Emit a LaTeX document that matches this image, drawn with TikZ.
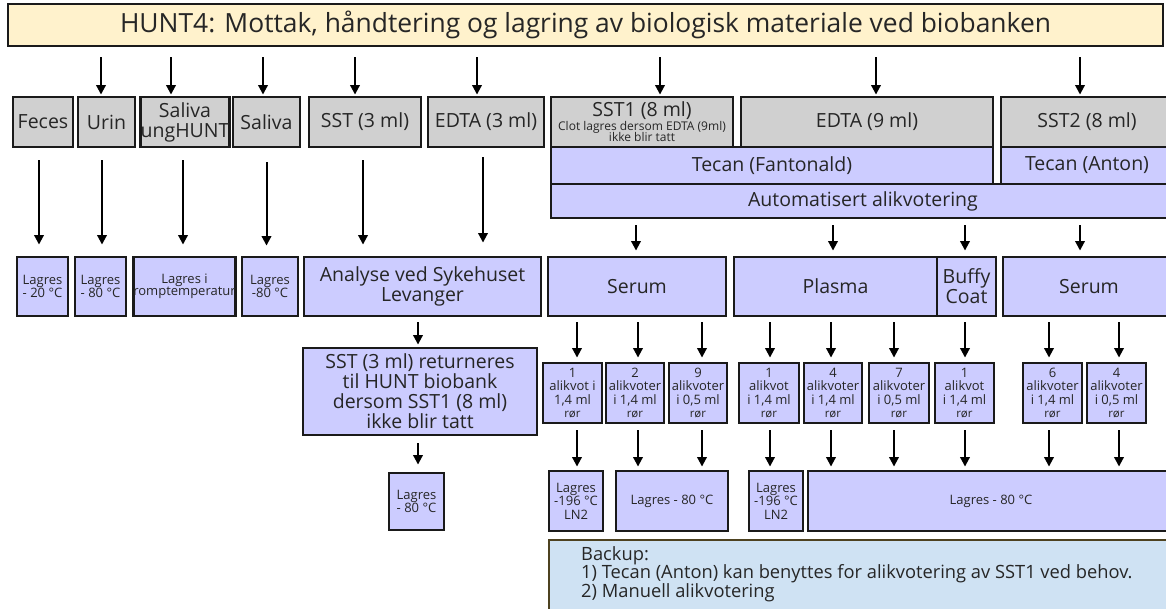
\documentclass[tikz,border=0pt]{standalone}
\usepackage{fontspec}
\setmainfont{Open Sans}
\usetikzlibrary{arrows.meta,calc}
\definecolor{gfill}{HTML}{D0D0D0}
\definecolor{pfill}{HTML}{CCCCFF}
\definecolor{tfill}{HTML}{FFF2CC}
\definecolor{bfill}{HTML}{CFE2F3}
\definecolor{bord}{HTML}{1A1A1A}
\definecolor{txt}{HTML}{262626}
\definecolor{bkb}{HTML}{4D4220}
\begin{document}
\begin{tikzpicture}[x=1pt,y=-1pt,
 base/.style={draw=bord,line width=2.9pt,inner sep=0pt,align=center,text=txt},
 gbox/.style={base,fill=gfill,font=\fontsize{19.5}{20}\selectfont},
 pbox/.style={base,fill=pfill,font=\fontsize{19.5}{20}\selectfont},
 sbox/.style={base,fill=pfill,font=\fontsize{13}{12.5}\selectfont},
 abox/.style={base,fill=pfill,font=\fontsize{13}{13.3}\selectfont,minimum height=60pt},
 arr/.style={draw=black,line width=2pt,-{Triangle[width=9.5pt,length=9.5pt]}},
]
\useasboundingbox (0,0) rectangle (1166,609);
\fill[white] (0,0) rectangle (1166,609);

% title
\node[base,fill=tfill,minimum width=1155pt,minimum height=42pt,font=\fontsize{26.4}{28}\selectfont] (title) at (585.5,25) {HUNT4: Mottak, håndtering og lagring av biologisk materiale ved biobanken};

% row 1
\node[gbox,minimum width=60pt,minimum height=50pt] (feces) at (43,122) {Feces};
\node[gbox,minimum width=57pt,minimum height=50pt] (urin) at (106.5,122) {Urin};
\node[gbox,minimum width=88pt,minimum height=50pt] (salung) at (185,122) {Saliva\\ungHUNT};
\node[gbox,minimum width=67pt,minimum height=50pt] (saliva) at (266.5,122) {Saliva};
\node[gbox,minimum width=112pt,minimum height=50pt] (sst3) at (365,122) {SST (3 ml)};
\node[gbox,minimum width=116pt,minimum height=50pt] (edta3) at (486,122) {EDTA (3 ml)};
\node[gbox,minimum width=182pt,minimum height=50pt] (sst1) at (642,122) {SST1 (8 ml)\\[-6pt]{\fontsize{12}{11.5}\selectfont Clot lagres dersom EDTA (9ml)}\\[-9pt]{\fontsize{12}{11.5}\selectfont ikke blir tatt}};
\node[gbox,minimum width=252pt,minimum height=50pt] (edta9) at (867,122) {EDTA (9 ml)};
\node[gbox,minimum width=172pt,minimum height=50pt] (sst2) at (1087,122) {SST2 (8 ml)};

% tecan rows
\node[pbox,minimum width=442pt,minimum height=37pt] (tecanf) at (772,165.5) {Tecan (Fantonald)};
\node[pbox,minimum width=172pt,minimum height=37pt] (tecana) at (1087,165.5) {Tecan (Anton)};
\node[pbox,minimum width=624pt,minimum height=34pt] (auto) at (863,201) {Automatisert alikvotering};

% storage row
\node[sbox,minimum width=51pt,minimum height=59pt] (lfeces) at (42.5,286.5) {Lagres\\- 20 °C};
\node[sbox,minimum width=51pt,minimum height=59pt] (lurin) at (100.5,286.5) {Lagres\\- 80 °C};
\node[sbox,minimum width=99pt,minimum height=59pt] (lsalung) at (184.5,286.5) {Lagres i\\romptemperatur};
\node[sbox,minimum width=56pt,minimum height=59pt] (lsaliva) at (270,286.5) {Lagres\\-80 °C};
\node[pbox,minimum width=237pt,minimum height=59pt] (analyse) at (422.5,286.5) {Analyse ved Sykehuset\\Levanger};
\node[pbox,minimum width=178pt,minimum height=59pt] (serum1) at (637,286.5) {Serum};
\node[pbox,minimum width=203pt,minimum height=59pt] (plasma) at (835.5,286.5) {Plasma};
\node[pbox,minimum width=59pt,minimum height=59pt] (buffy) at (966.5,286.5) {Buffy\\Coat};
\node[pbox,minimum width=172pt,minimum height=59pt] (serum2) at (1089,286.5) {Serum};

% SST return
\node[pbox,minimum width=234pt,minimum height=87pt] (ret) at (420,391.5) {SST (3 ml) returneres\\til HUNT biobank\\dersom SST1 (8 ml)\\ikke blir tatt};
\node[sbox,minimum width=55pt,minimum height=57pt] (l80) at (416.5,501.5) {Lagres\\- 80 °C};

% aliquots
\node[abox,minimum width=59pt] (a1) at (572.5,393) {1\\alikvot i\\1,4 ml\\{\fontsize{11.5}{12}\selectfont rør}};
\node[abox,minimum width=58pt] (a2) at (635,393) {2\\alikvoter\\i 1,4 ml\\{\fontsize{11.5}{12}\selectfont rør}};
\node[abox,minimum width=58pt] (a3) at (698,393) {9\\alikvoter\\i 0,5 ml\\{\fontsize{11.5}{12}\selectfont rør}};
\node[abox,minimum width=60pt] (a4) at (769,393) {1\\alikvot\\i 1,4 ml\\{\fontsize{11.5}{12}\selectfont rør}};
\node[abox,minimum width=58pt] (a5) at (833,393) {4\\alikvoter\\i 1,4 ml\\{\fontsize{11.5}{12}\selectfont rør}};
\node[abox,minimum width=60pt] (a6) at (899,393) {7\\alikvoter\\i 0,5 ml\\{\fontsize{11.5}{12}\selectfont rør}};
\node[abox,minimum width=59pt] (a7) at (964.5,393) {1\\alikvot\\i 1,4 ml\\{\fontsize{11.5}{12}\selectfont rør}};
\node[abox,minimum width=59pt] (a8) at (1052.5,393) {6\\alikvoter\\i 1,4 ml\\{\fontsize{11.5}{12}\selectfont rør}};
\node[abox,minimum width=59pt] (a9) at (1116.5,393) {4\\alikvoter\\i 0,5 ml\\{\fontsize{11.5}{12}\selectfont rør}};

% bottom storage
\node[sbox,font=\fontsize{13}{13.5}\selectfont,minimum width=54pt,minimum height=60pt] (b1) at (576,501) {Lagres\\-196 °C\\LN2};
\node[sbox,minimum width=112pt,minimum height=60pt] (b2) at (672,501) {Lagres - 80 °C};
\node[sbox,font=\fontsize{13}{13.5}\selectfont,minimum width=54pt,minimum height=60pt] (b3) at (776,501) {Lagres\\-196 °C\\LN2};
\node[sbox,minimum width=366pt,minimum height=60pt] (b4) at (991,501) {Lagres - 80 °C};

% backup
\node[draw=bkb,line width=2pt,fill=bfill,minimum width=626pt,minimum height=80pt,anchor=north west,inner sep=0pt] (backup) at (548,539) {};
\node[anchor=north west,align=left,inner sep=0pt,text=txt,font=\fontsize{18.3}{18.7}\selectfont] (backuptxt) at ($(backup.north west)+(33,7)$) {Backup:\\1) Tecan (Anton) kan benyttes for alikvotering av SST1 ved behov.\\2) Manuell alikvotering};

% arrows: title -> row 1
\draw[arr] ($(title.south -| urin.north)+(-5.5,10)$) -- ($(urin.north)+(-5.5,-1)$);
\draw[arr] ($(title.south -| salung.north)+(-14,10)$) -- ($(salung.north)+(-14,-1)$);
\draw[arr] ($(title.south -| saliva.north)+(-3.5,10)$) -- ($(saliva.north)+(-3.5,-1)$);
\draw[arr] ($(title.south -| sst3.north)+(-10,10)$) -- ($(sst3.north)+(-10,-1)$);
\draw[arr] ($(title.south -| edta3.north)+(-9,10)$) -- ($(edta3.north)+(-9,-1)$);
\draw[arr] ($(title.south -| sst1.north)+(18,10)$) -- ($(sst1.north)+(18,-1)$);
\draw[arr] ($(title.south -| edta9.north)+(9,10)$) -- ($(edta9.north)+(9,-1)$);
\draw[arr] ($(title.south -| sst2.north)+(-7,10)$) -- ($(sst2.north)+(-7,-1)$);

% row 1 -> storage
\draw[arr] ($(feces.south)+(-4,12)$) -- ($(feces.south |- lfeces.north)+(-4,-11)$);
\draw[arr] ($(urin.south)+(-4.5,12)$) -- ($(urin.south |- lurin.north)+(-4.5,-11)$);
\draw[arr] ($(salung.south)+(-2,12)$) -- ($(salung.south |- lsalung.north)+(-2,-11)$);
\draw[arr] ($(saliva.south)+(0,14)$) -- ($(saliva.south |- lsaliva.north)+(0,-10)$);
\draw[arr] ($(sst3.south)+(-2,12)$) -- ($(sst3.south |- analyse.north)+(-2,-11)$);
\draw[arr] ($(edta3.south)+(-3,9)$) -- ($(edta3.south |- analyse.north)+(-3,-13)$);

% automatisert -> products
\draw[arr] ($(auto.south -| serum1.north)+(-1,6)$) -- ($(serum1.north)+(-1,-5)$);
\draw[arr] ($(auto.south -| plasma.north)+(-2.5,6)$) -- ($(plasma.north)+(-2.5,-5)$);
\draw[arr] ($(auto.south -| buffy.north)+(-1.5,6)$) -- ($(buffy.north)+(-1.5,-5)$);
\draw[arr] ($(auto.south -| serum2.north)+(-9,6)$) -- ($(serum2.north)+(-9,-5)$);

% analyse -> return -> storage
\draw[arr] ($(analyse.south)+(-4.5,5)$) -- ($(analyse.south |- ret.north)+(-4.5,-2)$);
\draw[arr] ($(ret.south)+(-2,7)$) -- ($(ret.south |- l80.north)+(-2,-7)$);

% products -> aliquots
\draw[arr] ($(a1.north |- serum1.south)+(4.5,5)$) -- ($(a1.north)+(4.5,-4)$);
\draw[arr] ($(a2.north |- serum1.south)+(3,5)$) -- ($(a2.north)+(3,-4)$);
\draw[arr] ($(a3.north |- serum1.south)+(4,5)$) -- ($(a3.north)+(4,-4)$);
\draw[arr] ($(a4.north |- plasma.south)+(1,5)$) -- ($(a4.north)+(1,-4)$);
\draw[arr] ($(a5.north |- plasma.south)+(-2,5)$) -- ($(a5.north)+(-2,-4)$);
\draw[arr] ($(a6.north |- plasma.south)+(-5,5)$) -- ($(a6.north)+(-5,-4)$);
\draw[arr] ($(a7.north |- buffy.south)+(0.5,5)$) -- ($(a7.north)+(0.5,-4)$);
\draw[arr] ($(a8.north |- serum2.south)+(-3.5,5)$) -- ($(a8.north)+(-3.5,-4)$);
\draw[arr] ($(a9.north |- serum2.south)+(2.5,5)$) -- ($(a9.north)+(2.5,-4)$);

% aliquots -> storage
\draw[arr] ($(a1.south)+(4.5,6)$) -- ($(a1.south |- b1.north)+(4.5,-3)$);
\draw[arr] ($(a2.south)+(3,6)$) -- ($(a2.south |- b2.north)+(3,-3)$);
\draw[arr] ($(a3.south)+(4,6)$) -- ($(a3.south |- b2.north)+(4,-3)$);
\draw[arr] ($(a4.south)+(1,6)$) -- ($(a4.south |- b3.north)+(1,-3)$);
\draw[arr] ($(a5.south)+(-2,6)$) -- ($(a5.south |- b4.north)+(-2,-3)$);
\draw[arr] ($(a6.south)+(-5,6)$) -- ($(a6.south |- b4.north)+(-5,-3)$);
\draw[arr] ($(a7.south)+(0.5,6)$) -- ($(a7.south |- b4.north)+(0.5,-3)$);
\draw[arr] ($(a8.south)+(-3.5,6)$) -- ($(a8.south |- b4.north)+(-3.5,-3)$);
\draw[arr] ($(a9.south)+(2.5,6)$) -- ($(a9.south |- b4.north)+(2.5,-3)$);
\end{tikzpicture}
\end{document}
